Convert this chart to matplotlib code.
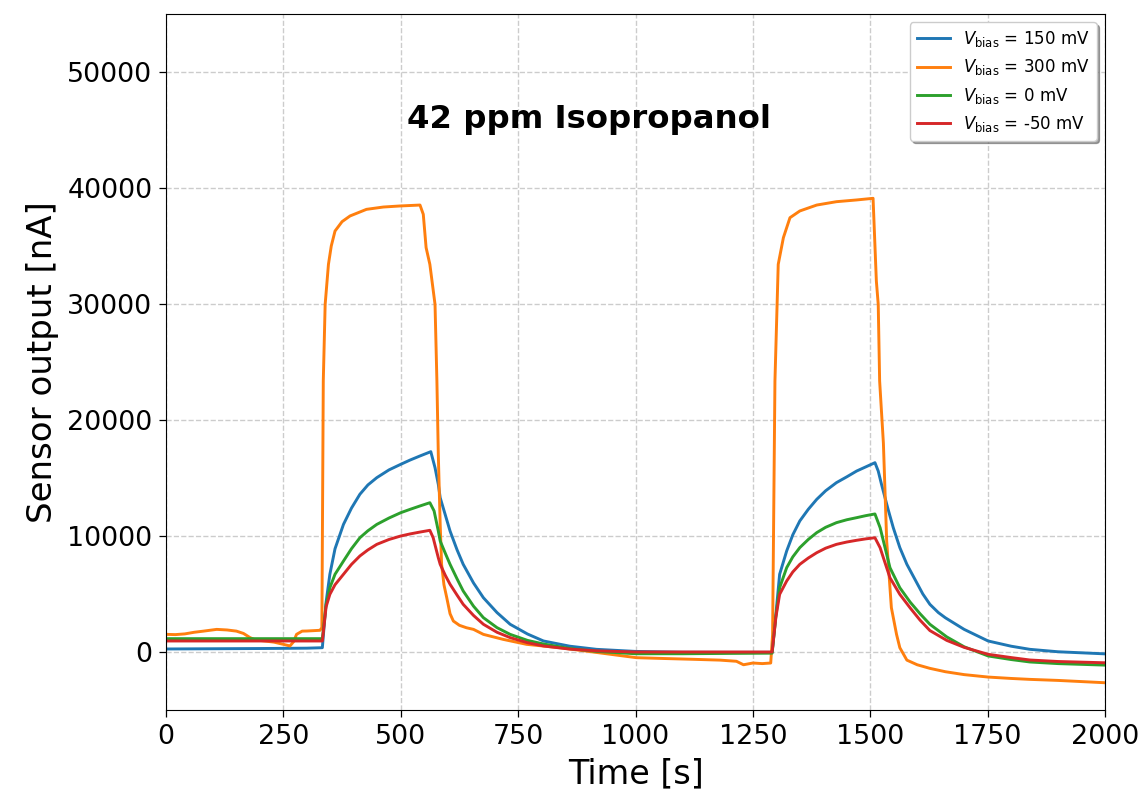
import matplotlib
matplotlib.use("Agg")
import matplotlib.pyplot as plt

# ---- data ----
t_blue = [0, 100, 200, 300, 333, 341, 349, 360, 378, 395, 413, 430, 449, 475, 500, 520, 541, 564,
          573, 580, 584, 595, 605, 620, 633, 655, 676, 705, 733, 770, 804, 860, 917, 1000, 1100,
          1200, 1291, 1299, 1307, 1322, 1335, 1350, 1368, 1386, 1405, 1428, 1450, 1471, 1490,
          1510, 1517, 1524, 1538, 1549, 1563, 1578, 1600, 1612, 1627, 1645, 1660, 1700, 1751,
          1800, 1840, 1900, 2000]
v_blue = [260, 280, 300, 330, 370, 4300, 6700, 8900, 11000, 12400, 13600, 14400, 15030, 15700,
          16180, 16550, 16900, 17270, 15890, 14450, 13300, 11800, 10430, 8800, 7560, 5950, 4680,
          3400, 2390, 1550, 950, 500, 230, 50, -20, -30, -30, 3240, 6700, 8710, 10100, 11300,
          12300, 13160, 13900, 14600, 15100, 15600, 15950, 16320, 15600, 14450, 12300, 10720,
          9000, 7560, 5900, 5000, 4110, 3400, 2950, 1950, 950, 500, 230, 20, -160]

t_orange = [0, 20, 40, 60, 80, 108, 130, 150, 165, 179, 190, 200, 230, 250, 264, 272, 278, 290,
            300, 328, 332, 335, 339, 346, 352, 360, 375, 392, 427, 463, 498, 541, 548, 554, 562,
            573, 577, 580, 584, 587, 592, 598, 605, 612, 625, 640, 655, 676, 718, 768, 839, 900,
            1002, 1060, 1123, 1180, 1215, 1230, 1250, 1270, 1288, 1292, 1297, 1304, 1315, 1329,
            1350, 1386, 1428, 1471, 1506, 1513, 1517, 1520, 1528, 1535, 1545, 1556, 1563, 1578,
            1600, 1627, 1660, 1700, 1751, 1800, 1840, 1900, 2000]
v_orange = [1520, 1500, 1560, 1700, 1800, 1950, 1900, 1800, 1600, 1240, 1050, 1000, 850, 660, 520,
            900, 1520, 1800, 1810, 1870, 2100, 23360, 29970, 33420, 35000, 36290, 37100, 37590,
            38160, 38360, 38450, 38530, 37730, 34860, 33420, 29970, 23360, 17000, 11000, 7560,
            5800, 4680, 3300, 2670, 2300, 2090, 1950, 1520, 1090, 660, 370, 50, -490, -560, -630,
            -700, -800, -1100, -950, -1000, -950, 1500, 23360, 33420, 35720, 37440, 38020, 38530,
            38820, 38970, 39110, 31980, 29970, 23360, 18000, 9570, 3820, 1520, 370, -700, -1100,
            -1410, -1700, -1950, -2160, -2280, -2360, -2450, -2650]

t_green = [0, 333, 341, 349, 360, 378, 395, 413, 430, 449, 475, 500, 520, 541, 562, 571, 580, 584,
           595, 605, 620, 633, 655, 676, 705, 733, 770, 804, 860, 917, 1000, 1100, 1200, 1291,
           1299, 1307, 1322, 1335, 1350, 1368, 1386, 1405, 1428, 1450, 1471, 1490, 1510, 1521,
           1528, 1542, 1563, 1585, 1606, 1627, 1663, 1700, 1751, 1800, 1840, 1900, 2000]
v_green = [1150, 1150, 4100, 5540, 6700, 7840, 8900, 9850, 10450, 11000, 11550, 12010, 12300,
           12590, 12870, 12160, 10430, 9570, 8500, 7560, 6300, 5260, 3950, 2960, 2100, 1520, 1000,
           690, 300, 50, -150, -150, -120, -100, 3100, 5540, 7270, 8200, 9000, 9700, 10290, 10750,
           11150, 11400, 11580, 11750, 11900, 10720, 9570, 7270, 5540, 4300, 3300, 2390, 1300,
           450, -340, -650, -860, -1000, -1130]

t_red = [0, 333, 341, 349, 360, 378, 395, 413, 430, 449, 475, 500, 520, 541, 562, 569, 580, 584,
         595, 605, 620, 633, 655, 676, 705, 733, 770, 804, 860, 917, 1000, 1100, 1200, 1291, 1299,
         1307, 1322, 1335, 1350, 1368, 1386, 1405, 1428, 1450, 1471, 1490, 1510, 1521, 1528, 1542,
         1563, 1585, 1606, 1627, 1663, 1700, 1751, 1800, 1840, 1900, 2000]
v_red = [950, 950, 3900, 4970, 5800, 6700, 7550, 8280, 8800, 9280, 9700, 10000, 10180, 10340,
         10490, 9860, 8120, 7560, 6600, 5840, 4900, 4110, 3150, 2390, 1700, 1240, 800, 520, 250,
         100, 0, 0, 0, 0, 3000, 4970, 6120, 6900, 7560, 8100, 8560, 8950, 9280, 9480, 9630, 9750,
         9850, 8990, 8120, 6400, 4970, 3800, 2750, 1850, 1000, 400, -200, -480, -690, -820, -930]

labels = [r"$V_{\mathrm{bias}}$ = 150 mV", r"$V_{\mathrm{bias}}$ = 300 mV",
          r"$V_{\mathrm{bias}}$ = 0 mV", r"$V_{\mathrm{bias}}$ = -50 mV"]
title_text = "42 ppm Isopropanol"
x_ticks = [0, 250, 500, 750, 1000, 1250, 1500, 1750, 2000]
y_ticks = [0, 10000, 20000, 30000, 40000, 50000]

# ---- figure ----
fig = plt.figure(figsize=(11.44, 7.92), dpi=100)
ax = fig.add_axes([166 / 1144, 1 - 710 / 792, (1105 - 166) / 1144, (710 - 14) / 792])

lw = 2.1
ax.plot(t_blue, v_blue, color="#1f77b4", lw=lw, label=labels[0])
ax.plot(t_orange, v_orange, color="#ff7f0e", lw=lw, label=labels[1])
ax.plot(t_green, v_green, color="#2ca02c", lw=lw, label=labels[2])
ax.plot(t_red, v_red, color="#d62728", lw=lw, label=labels[3])

ax.set_xlim(0, 2000)
ax.set_ylim(-5000, 55000)
ax.set_xticks(x_ticks)
ax.set_yticks(y_ticks)
ax.tick_params(axis="both", labelsize=19.4, length=5, width=0.9, pad=4.8)
ax.grid(True, color="#cccccc", linestyle="--", linewidth=1.0)
ax.set_axisbelow(True)

ax.set_xlabel("Time [s]", fontsize=24, labelpad=5.5)
ax.set_ylabel("Sensor output [nA]", fontsize=24.5, labelpad=6)

ax.text(900, 45200, title_text, ha="center", va="baseline", fontsize=23.3, fontweight="bold")

ax.legend(loc="upper right", fontsize=12, shadow=True, fancybox=True, framealpha=1.0)

fig.savefig("out.png", dpi=100)
